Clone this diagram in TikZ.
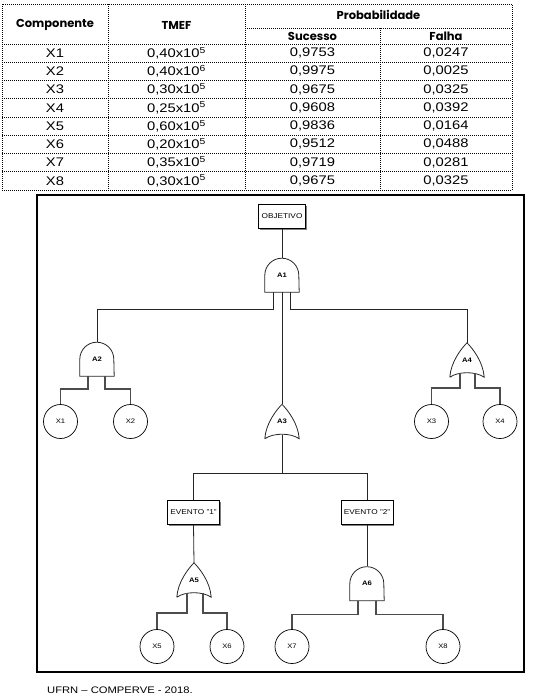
\documentclass[tikz,border=0pt]{standalone}
\usepackage{fontspec}
\setmainfont{Liberation Sans}[FakeStretch=1.18]
\newfontfamily\headfont{Poppins}
\usetikzlibrary{shadows}

\tikzstyle{cell} = [inner sep=0pt, font=\fontsize{12.5}{14}\selectfont]
\tikzstyle{head} = [inner sep=0pt, font=\headfont\bfseries\fontsize{11.5}{14}\selectfont]
\tikzstyle{grade} = [line width=0.7pt, dash pattern=on 1pt off 1pt]
\tikzstyle{evento} = [draw, line width=0.8pt, fill=white, minimum height=24pt, inner sep=3pt,
    font=\fontsize{7}{8}\selectfont,
    drop shadow={shadow xshift=1.3pt, shadow yshift=-1.3pt, fill=black!50, opacity=1}]
\tikzstyle{basico} = [circle, draw, line width=0.7pt, minimum size=34pt, inner sep=0pt, font=\fontsize{6.5}{7}\selectfont]
\tikzstyle{porta} = [minimum width=34pt, minimum height=34pt, inner sep=0pt, font=\bfseries\fontsize{6.5}{7}\selectfont]
\tikzstyle{fio} = [line width=0.8pt, draw=black!85]
\tikzstyle{perna} = [line width=1.5pt, draw=black!70]

% porta E (and) e porta OU (or), voltadas para cima
\newcommand{\portaE}[3]{%
  \node[porta] (#1) at (#2) {#3};
  \draw[fio] (#1.south west) -- ([yshift=17pt]#1.south west)
    arc[start angle=180, end angle=0, radius=17pt] -- (#1.south east) -- cycle;}
\newcommand{\portaOU}[3]{%
  \node[porta] (#1) at (#2) {#3};
  \draw[fio] (#1.south west)
    .. controls ([xshift=1pt,yshift=15pt]#1.south west) and ([xshift=-6pt,yshift=-6pt]#1.north) .. (#1.north)
    .. controls ([xshift=6pt,yshift=-6pt]#1.north) and ([xshift=-1pt,yshift=15pt]#1.south east) .. (#1.south east)
    .. controls ([xshift=-9pt,yshift=6pt]#1.south east) and ([xshift=9pt,yshift=6pt]#1.south west) .. (#1.south west);}

\begin{document}
\begin{tikzpicture}[x=1pt, y=1pt]
\useasboundingbox (0,0) rectangle (542,-699);

% tabela
\draw[grade] (2,-4) rectangle (512,-190);
\draw[grade] (245,-28) -- (512,-28);
\draw[grade] (2,-44) -- (512,-44);
\draw[grade] (2,-62.25) -- (512,-62.25);
\draw[grade] (2,-80.5) -- (512,-80.5);
\draw[grade] (2,-98.75) -- (512,-98.75);
\draw[grade] (2,-117) -- (512,-117);
\draw[grade] (2,-135.25) -- (512,-135.25);
\draw[grade] (2,-153.5) -- (512,-153.5);
\draw[grade] (2,-171.75) -- (512,-171.75);
\draw[grade] (108,-4) -- (108,-190);
\draw[grade] (245,-4) -- (245,-190);
\draw[grade] (380,-28) -- (380,-190);

\node[head] (hcomp) at (55,-25) {Componente};
\node[head] (htmef) at (176.5,-25) {TMEF};
\node[head] (hprob) at (378.5,-15) {Probabilidade};
\node[head] (hsuc) at (312.5,-36) {Sucesso};
\node[head] (hfal) at (446,-36) {Falha};

\node[cell] (c1) at (55,-53.1) {X1};
\node[cell] (t1) at (176.5,-53.1) {0,40x10\textsuperscript{5}};
\node[cell] (s1) at (312.5,-53.1) {0,9753};
\node[cell] (f1) at (446,-53.1) {0,0247};
\node[cell] (c2) at (55,-71.4) {X2};
\node[cell] (t2) at (176.5,-71.4) {0,40x10\textsuperscript{6}};
\node[cell] (s2) at (312.5,-71.4) {0,9975};
\node[cell] (f2) at (446,-71.4) {0,0025};
\node[cell] (c3) at (55,-89.6) {X3};
\node[cell] (t3) at (176.5,-89.6) {0,30x10\textsuperscript{5}};
\node[cell] (s3) at (312.5,-89.6) {0,9675};
\node[cell] (f3) at (446,-89.6) {0,0325};
\node[cell] (c4) at (55,-107.9) {X4};
\node[cell] (t4) at (176.5,-107.9) {0,25x10\textsuperscript{5}};
\node[cell] (s4) at (312.5,-107.9) {0,9608};
\node[cell] (f4) at (446,-107.9) {0,0392};
\node[cell] (c5) at (55,-126.1) {X5};
\node[cell] (t5) at (176.5,-126.1) {0,60x10\textsuperscript{5}};
\node[cell] (s5) at (312.5,-126.1) {0,9836};
\node[cell] (f5) at (446,-126.1) {0,0164};
\node[cell] (c6) at (55,-144.4) {X6};
\node[cell] (t6) at (176.5,-144.4) {0,20x10\textsuperscript{5}};
\node[cell] (s6) at (312.5,-144.4) {0,9512};
\node[cell] (f6) at (446,-144.4) {0,0488};
\node[cell] (c7) at (55,-162.6) {X7};
\node[cell] (t7) at (176.5,-162.6) {0,35x10\textsuperscript{5}};
\node[cell] (s7) at (312.5,-162.6) {0,9719};
\node[cell] (f7) at (446,-162.6) {0,0281};
\node[cell] (c8) at (55,-180.9) {X8};
\node[cell] (t8) at (176.5,-180.9) {0,30x10\textsuperscript{5}};
\node[cell] (s8) at (312.5,-180.9) {0,9675};
\node[cell] (f8) at (446,-180.9) {0,0325};

% arvore de falhas
\draw[line width=1.3pt] (37,-195) rectangle (524,-672);

\node[evento] (objetivo) at (282,-216.5) {OBJETIVO};
\portaE{a1}{282,-275}{A1}
\portaE{a2}{97,-359}{A2}
\portaOU{a3}{282,-421.5}{A3}
\portaOU{a4}{467,-360}{A4}
\node[evento] (ev1) at (193.5,-512.5) {EVENTO "1"};
\node[evento] (ev2) at (367,-512.5) {EVENTO "2"};
\portaOU{a5}{194,-580}{A5}
\portaE{a6}{367,-583.5}{A6}

\node[basico] (x1) at (60.5,-421.5) {X1};
\node[basico] (x2) at (130.5,-421.5) {X2};
\node[basico] (x3) at (431.5,-421.5) {X3};
\node[basico] (x4) at (500,-421.5) {X4};
\node[basico] (x5) at (157,-646.5) {X5};
\node[basico] (x6) at (227,-646.5) {X6};
\node[basico] (x7) at (292,-646.5) {X7};
\node[basico] (x8) at (443,-646.5) {X8};

\draw[fio] (objetivo.south) -- (a1.north);
\draw[fio] ([xshift=-8.5pt]a1.south) -- ++(0,-17) -| (a2.north);
\draw[fio] ([xshift=8pt]a1.south) -- ++(0,-17) -| (a4.north);
\draw[fio] (a1.south) -- (a3.north);
\draw[fio] ([yshift=4pt]a3.south) -- ++(0,-39) coordinate (a3j);
\draw[fio] (a3j) -| (ev1.north);
\draw[fio] (a3j) -| (ev2.north);
\draw[fio] (ev1.south) -- (a5.north);
\draw[fio] (ev2.south) -- (a6.north);

\draw[perna] ([xshift=-9pt]a2.south) -- ++(0,-13) -| (x1.north);
\draw[perna] ([xshift=8pt]a2.south) -- ++(0,-13) -| (x2.north);
\draw[perna] ([xshift=-7pt,yshift=4pt]a4.south) -- ++(0,-15) -| (x3.north);
\draw[perna] ([xshift=8pt,yshift=4pt]a4.south) -- ++(0,-15) -| (x4.north);
\draw[perna] ([xshift=-7pt,yshift=4pt]a5.south) -- ++(0,-20) -| (x5.north);
\draw[perna] ([xshift=9pt,yshift=4pt]a5.south) -- ++(0,-20) -| (x6.north);
\draw[perna] ([xshift=-9pt]a6.south) -- ++(0,-14) -| (x7.north);
\draw[perna] ([xshift=9pt]a6.south) -- ++(0,-14) -| (x8.north);

\node[anchor=west, inner sep=0pt, font=\fontsize{9.5}{11}\selectfont] (fonte) at (47,-690) {UFRN – COMPERVE - 2018.};
\end{tikzpicture}
\end{document}
